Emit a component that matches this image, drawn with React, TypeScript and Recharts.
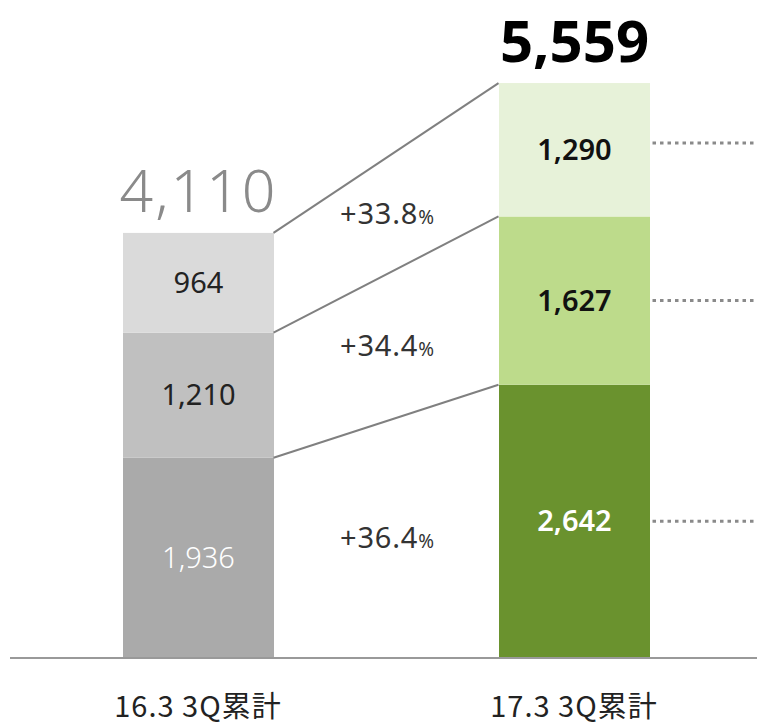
import { Bar, BarChart, LabelList, ReferenceDot, ReferenceLine, XAxis, YAxis } from 'recharts'

const CATEGORIES = ['16.3 3Q累計', '17.3 3Q累計']
const BOTTOM = [1936, 2642]
const MIDDLE = [1210, 1627]
const TOP = [964, 1290]
const GROWTH = ['+33.8', '+34.4', '+36.4'] // top, middle, bottom

const SERIES = [
  { key: 'bottom', values: BOTTOM, colors: ['#aaaaaa', '#6a922e'] },
  { key: 'middle', values: MIDDLE, colors: ['#c0c0c0', '#bddb8b'] },
  { key: 'top', values: TOP, colors: ['#dadada', '#e7f2d9'] },
] as const

const WIDTH = 757
const HEIGHT = 724
const MARGIN = { top: 0, right: -5, bottom: 36, left: 10 }
const BAR_SIZE = 151
const PLOT_W = WIDTH - MARGIN.left - MARGIN.right
const HALF = BAR_SIZE / 2 / PLOT_W
// where the dotted leader sits inside each segment of the right bar (0 = bottom, 1 = top)
const LEADER_POS = [0.5, 0.5, 0.55]
const FONT = '"Noto Sans", "Noto Sans CJK JP", sans-serif'
const CJK = '"Noto Sans CJK JP", "Noto Sans", sans-serif'

const rows = CATEGORIES.map((name, i) => ({
  name,
  bottom: BOTTOM[i],
  middle: MIDDLE[i],
  top: TOP[i],
  total: BOTTOM[i] + MIDDLE[i] + TOP[i],
}))

type LabelProps = {
  x?: number | string
  y?: number | string
  width?: number | string
  height?: number | string
  value?: unknown
  index?: number
}

function num(v: unknown) {
  return typeof v === 'number' ? v : Number(v ?? 0)
}

function SegmentLabel({ x, y, width, height, value, index = 0, light }: LabelProps & { light: boolean }) {
  const cx = num(x) + num(width) / 2
  const cy = num(y) + num(height) / 2
  const v = num(value)
  const second = index === 1
  const fill = light ? '#ffffff' : second ? '#111111' : '#222222'
  return (
    <text
      x={cx}
      y={cy + 10}
      textAnchor="middle"
      fill={fill}
      fontFamily={FONT}
      fontSize={29}
      fontWeight={second ? 600 : light ? 300 : 400}
    >
      {v.toLocaleString('en-US')}
    </text>
  )
}

function TotalLabel({ x, y, width, index = 0 }: LabelProps) {
  const cx = num(x) + num(width) / 2
  const second = index === 1
  return (
    <text
      x={cx}
      y={num(y) - 21}
      textAnchor="middle"
      fill={second ? '#000000' : '#8a8a8a'}
      fontFamily={FONT}
      fontSize={second ? 58 : 59}
      fontWeight={second ? 700 : 300}
      letterSpacing={second ? 0 : 2}
    >
      {rows[index].total.toLocaleString('en-US')}
    </text>
  )
}

function GrowthLabel({ viewBox, text }: { viewBox?: { x?: number; y?: number; width?: number; height?: number }; text: string }) {
  const cx = (viewBox?.x ?? 0) + (viewBox?.width ?? 0) / 2
  const cy = (viewBox?.y ?? 0) + (viewBox?.height ?? 0) / 2
  return (
    <text x={cx + 1} y={cy + 8} textAnchor="middle" fill="#333333" fontFamily={FONT}>
      <tspan fontSize={29} letterSpacing={0.8}>{text}</tspan>
      <tspan fontSize={19}>%</tspan>
    </text>
  )
}

function XTick({ x, y, payload }: { x?: number; y?: number; payload?: { value: string } }) {
  return (
    <text x={x} y={(y ?? 0) + 51} textAnchor="middle" fill="#222222" fontFamily={CJK} fontSize={29} letterSpacing={1}>
      {payload?.value}
    </text>
  )
}

export default function App() {
  // cumulative boundaries for connector lines
  const bounds = CATEGORIES.map((_, i) => [
    BOTTOM[i],
    BOTTOM[i] + MIDDLE[i],
    BOTTOM[i] + MIDDLE[i] + TOP[i],
  ])
  const mids = CATEGORIES.map((_, i) => [
    BOTTOM[i] / 2,
    BOTTOM[i] + MIDDLE[i] / 2,
    BOTTOM[i] + MIDDLE[i] + TOP[i] / 2,
  ])
  const leaders = [
    BOTTOM[1] * LEADER_POS[0],
    BOTTOM[1] + MIDDLE[1] * LEADER_POS[1],
    BOTTOM[1] + MIDDLE[1] + TOP[1] * LEADER_POS[2],
  ]

  return (
    <div style={{ position: 'absolute', left: 0, top: 0, width: WIDTH, height: HEIGHT, overflow: 'hidden', background: '#fff' }}>
      <BarChart width={WIDTH} height={HEIGHT} data={rows} margin={MARGIN}>
        <XAxis
          dataKey="name"
          height={30}
          tick={<XTick />}
          tickLine={false}
          axisLine={{ stroke: '#999999', strokeWidth: 2 }}
        />
        <XAxis xAxisId="n" type="number" domain={[0, 1]} hide allowDataOverflow />
        <YAxis hide domain={[0, 6362]} allowDataOverflow />
        {SERIES.map((s) => (
          <Bar
            key={s.key}
            dataKey={s.key}
            stackId="a"
            barSize={BAR_SIZE}
            isAnimationActive={false}
            shape={(p: any) => (
              <rect x={p.x} y={p.y} width={p.width} height={p.height} fill={s.colors[p.index]} />
            )}
          >
            <LabelList
              dataKey={s.key}
              content={(props: any) => <SegmentLabel {...props} light={s.key === 'bottom'} />}
            />
            {s.key === 'top' ? <LabelList dataKey="total" content={(props: any) => <TotalLabel {...props} />} /> : null}
          </Bar>
        ))}
        {[0, 1, 2].map((k) => (
          <ReferenceLine
            key={`c${k}`}
            xAxisId="n"
            segment={[
              { x: 0.25 + HALF, y: bounds[0][k] },
              { x: 0.75 - HALF, y: bounds[1][k] },
            ]}
            stroke="#808080"
            strokeWidth={2}
            ifOverflow="visible"
          />
        ))}
        {[0, 1, 2].map((k) => (
          <ReferenceLine
            key={`d${k}`}
            xAxisId="n"
            segment={[
              { x: 0.75 + HALF + 0.004, y: leaders[k] },
              { x: 1.02, y: leaders[k] },
            ]}
            stroke="#8a8a8a"
            strokeWidth={3}
            strokeDasharray="3.5 4"
            ifOverflow="visible"
          />
        ))}
        {[0, 1, 2].map((k) => (
          <ReferenceDot
            key={`g${k}`}
            xAxisId="n"
            x={0.5}
            y={(mids[0][k] + mids[1][k]) / 2}
            r={1}
            fill="none"
            stroke="none"
            ifOverflow="visible"
            label={(props: any) => <GrowthLabel {...props} text={GROWTH[2 - k]} />}
          />
        ))}
      </BarChart>
    </div>
  )
}
